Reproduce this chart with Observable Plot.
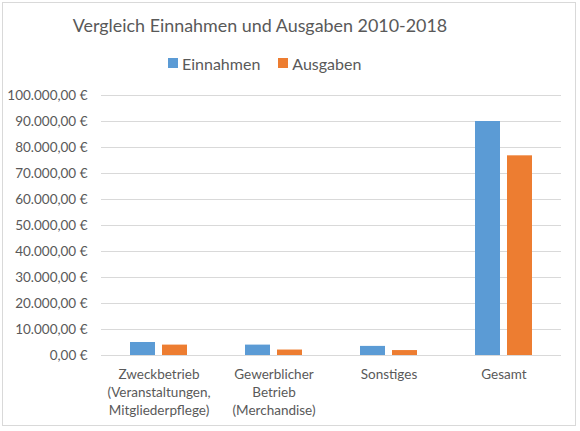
<!DOCTYPE html>
<html>
<head>
<meta charset="utf-8">
<script src="https://cdn.jsdelivr.net/npm/d3@7"></script>
<script src="https://cdn.jsdelivr.net/npm/@observablehq/plot@0.6"></script>
<style>
  html, body { margin: 0; padding: 0; background: #fff; }
  #wrap { position: relative; width: 580px; height: 431px; overflow: hidden; font-family: Lato, "Open Sans", sans-serif; color: #595959; }
  #frame { position: absolute; left: 2px; top: 2px; width: 572px; height: 422px; border: 1px solid #d9d9d9; pointer-events: none; }
  #title { height: 50px; line-height: 50px; text-align: center; font-size: 17.9px; color: #595959; padding-right: 60px; }
  #legend { height: 26px; display: flex; justify-content: flex-start; align-items: center; padding-left: 159px; font-size: 16px; color: #595959; }
  .item { display: flex; align-items: center; margin: 0 9px; }
  .sw { width: 10px; height: 10px; margin-right: 4px; }
  svg { display: block; }
</style>
</head>
<body>
<div id="wrap">
  <div id="frame"></div>
  <div id="title">Vergleich Einnahmen und Ausgaben 2010-2018</div>
  <div id="legend"></div>
  <div id="chart"></div>
</div>
<script>
const categories = ["Zweckbetrieb", "Gewerblicher Betrieb", "Sonstiges", "Gesamt"];
const categoryLabels = [
  "Zweckbetrieb\n(Veranstaltungen,\nMitgliederpflege)",
  "Gewerblicher\nBetrieb\n(Merchandise)",
  "Sonstiges",
  "Gesamt"
];
const series = ["Einnahmen", "Ausgaben"];
const colors = ["#5B9BD5", "#ED7D31"];
const einnahmen = [5000, 4000, 3500, 90000];
const ausgaben = [4000, 2100, 1900, 76800];
const yTicks = [0, 10000, 20000, 30000, 40000, 50000, 60000, 70000, 80000, 90000, 100000];

const data = [];
categories.forEach((c, i) => {
  data.push({category: c, series: "Einnahmen", value: einnahmen[i]});
  data.push({category: c, series: "Ausgaben", value: ausgaben[i]});
});

const legend = document.getElementById("legend");
series.forEach((s, i) => {
  const it = document.createElement("div");
  it.className = "item";
  it.innerHTML = `<span class="sw" style="background:${colors[i]}"></span><span>${s}</span>`;
  legend.appendChild(it);
});

const fmt = v => {
  const s = v.toLocaleString("de-DE", {minimumFractionDigits: 2, maximumFractionDigits: 2});
  return s + " €";
};
const labelOf = c => categoryLabels[categories.indexOf(c)];

const plot = Plot.plot({
  width: 580,
  height: 355,
  marginTop: 19,
  marginBottom: 76,
  marginLeft: 99,
  marginRight: 18,
  style: {fontFamily: "Lato, 'Open Sans', sans-serif", color: "#595959", background: "white"},
  fx: {domain: categories, padding: 0},
  x: {domain: series, paddingInner: 0.212, paddingOuter: 0.86, axis: null},
  y: {domain: [0, 100000], axis: null},
  color: {domain: series, range: colors},
  marks: [
    Plot.ruleY(yTicks, {stroke: "#d9d9d9", strokeWidth: 1}),
    Plot.barY(data, {fx: "category", x: "series", y: "value", fill: "series", inset: 0}),
    Plot.axisY(yTicks, {
      anchor: "left", tickSize: 0, tickPadding: 14, tickFormat: fmt,
      fontSize: 13.5, fill: "#595959", label: null
    }),
    Plot.axisFx({
      anchor: "bottom", tickSize: 0, tickPadding: 11, tickFormat: labelOf,
      fontSize: 13.5, lineHeight: 1.33, fill: "#595959", label: null
    })
  ]
});
document.getElementById("chart").appendChild(plot);
</script>
</body>
</html>
